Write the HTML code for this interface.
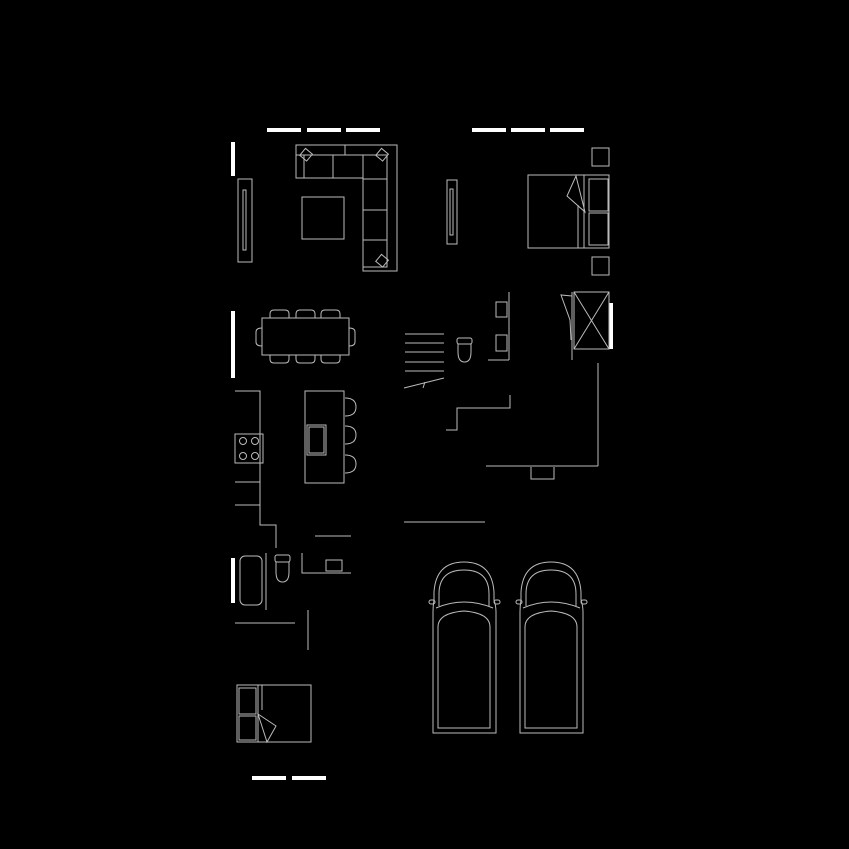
<!DOCTYPE html>
<html><head><style>html,body{margin:0;padding:0;background:#000;}svg{display:block}</style></head>
<body>
<svg width="849" height="849" viewBox="0 0 849 849" xmlns="http://www.w3.org/2000/svg">
<rect width="849" height="849" fill="#000"/>
<g fill="#fff">
<rect x="267" y="128" width="34" height="4"/><rect x="307" y="128" width="34" height="4"/><rect x="346" y="128" width="34" height="4"/>
<rect x="472" y="128" width="34" height="4"/><rect x="511" y="128" width="34" height="4"/><rect x="550" y="128" width="34" height="4"/>
<rect x="231" y="142" width="4" height="34"/><rect x="231" y="311" width="4" height="67"/>
<rect x="609" y="303" width="4" height="46"/><rect x="231" y="558" width="4" height="45"/>
<rect x="252" y="776" width="34" height="4"/><rect x="292" y="776" width="34" height="4"/>
</g>
<g fill="none" stroke="#bbb" stroke-width="1">
<path d="M296,145 H397 V271 H363 V178 H296 Z"/>
<path d="M296,155 H387 V267 H363"/>
<line x1="304" y1="155" x2="304" y2="178"/><line x1="333" y1="155" x2="333" y2="178"/><line x1="363" y1="155" x2="363" y2="178"/><line x1="345" y1="145" x2="345" y2="155"/>
<line x1="363" y1="179" x2="387" y2="179"/><line x1="363" y1="210" x2="387" y2="210"/><line x1="363" y1="240" x2="387" y2="240"/>
<rect x="302" y="150" width="9" height="9" transform="rotate(40 306 154)"/><rect x="378" y="150" width="9" height="9" transform="rotate(40 382 154)"/><rect x="378" y="256" width="9" height="9" transform="rotate(40 382 260)"/>
<rect x="302" y="197" width="42" height="42"/>
<rect x="238" y="179" width="14" height="83"/><rect x="243" y="190" width="3" height="60"/>
<rect x="447" y="180" width="10" height="64"/><rect x="450" y="189" width="3" height="46"/>
<rect x="528" y="175" width="81" height="73"/>
<rect x="589" y="179" width="19" height="32"/><rect x="589" y="213" width="19" height="32"/>
<line x1="584" y1="175" x2="584" y2="248"/><line x1="578" y1="205" x2="578" y2="248"/>
<path d="M576,176 L567,196 L585,212 Z"/>
<rect x="592" y="148" width="17" height="18"/><rect x="592" y="257" width="17" height="18"/>
<rect x="262" y="318" width="87" height="37"/>
<path d="M270,318 v-4 q0,-4 4,-4 h11 q4,0 4,4 v4 M296,318 v-4 q0,-4 4,-4 h11 q4,0 4,4 v4 M321,318 v-4 q0,-4 4,-4 h11 q4,0 4,4 v4"/>
<path d="M270,355 v4 q0,4 4,4 h11 q4,0 4,-4 v-4 M296,355 v4 q0,4 4,4 h11 q4,0 4,-4 v-4 M321,355 v4 q0,4 4,4 h11 q4,0 4,-4 v-4"/>
<path d="M262,328 q-6,0 -6,4 v10 q0,4 6,4 M349,328 q6,0 6,4 v10 q0,4 -6,4"/>
<line x1="405" y1="334" x2="444" y2="334"/><line x1="405" y1="343" x2="444" y2="343"/><line x1="405" y1="352" x2="444" y2="352"/><line x1="405" y1="362" x2="444" y2="362"/><line x1="405" y1="371" x2="444" y2="371"/>
<path d="M404,388 L444,378 M425,382 L423,388"/>
<rect x="457" y="338" width="15" height="6" rx="2"/><path d="M458,344 h13 v8 q0,10 -6.5,10 q-6.5,0 -6.5,-10 Z"/>
<line x1="509" y1="292" x2="509" y2="360"/><line x1="488" y1="360" x2="509" y2="360"/>
<rect x="496" y="302" width="11" height="15"/><rect x="496" y="335" width="11" height="16"/>
<line x1="572" y1="292" x2="572" y2="360"/>
<rect x="574" y="292" width="35" height="57"/><path d="M574,292 L609,349 M609,292 L574,349"/>
<path d="M572,296 L561,295 L570,320 L571,340"/>
<line x1="598" y1="363" x2="598" y2="466"/><line x1="486" y1="466" x2="598" y2="466"/>
<path d="M531,467 v12 h23 v-12"/>
<path d="M510,395 V408 H457 V430 H446"/>
<path d="M235,391 H260 V525 H276 V548"/>
<rect x="235" y="434" width="28" height="29"/>
<circle cx="243" cy="441" r="3.5"/><circle cx="255" cy="441" r="3.5"/><circle cx="243" cy="456" r="3.5"/><circle cx="255" cy="456" r="3.5"/>
<path d="M235,482 H260 M235,505 H260"/>
<rect x="305" y="391" width="39" height="92"/><rect x="307" y="425" width="19" height="30"/><rect x="309" y="427" width="15" height="26"/>
<path d="M345,398 q11,0 11,9 q0,9 -11,9 M345,426 q11,0 11,9 q0,9 -11,9 M345,455 q11,0 11,9 q0,9 -11,9"/>
<line x1="404" y1="522" x2="485" y2="522"/>
<line x1="315" y1="536" x2="351" y2="536"/><path d="M302,553 V573 H351"/><rect x="326" y="560" width="16" height="11"/>
<rect x="240" y="556" width="22" height="49" rx="5"/>
<line x1="266" y1="553" x2="266" y2="610"/>
<rect x="275" y="555" width="15" height="7" rx="2"/><path d="M276,562 h13 v10 q0,10 -6.5,10 q-6.5,0 -6.5,-10 Z"/>
<line x1="235" y1="623" x2="295" y2="623"/><line x1="308" y1="610" x2="308" y2="650"/>
<rect x="237" y="685" width="74" height="57"/>
<rect x="239" y="688" width="17" height="26"/><rect x="239" y="716" width="17" height="24"/>
<line x1="258" y1="685" x2="258" y2="742"/><line x1="262" y1="685" x2="262" y2="710"/>
<path d="M258,714 L276,726 L267,742 Z"/>
<g id="car" transform="translate(432,562)">
<path d="M1,171 V50 Q1,44 2,38 V30 Q4,0 32,0 Q60,0 62,30 V38 Q64,44 64,50 V171 Z"/>
<path d="M7,44 V32 Q7,8 32,8 Q57,8 57,32 V44"/>
<path d="M4,46 Q32,34 61,46"/>
<path d="M6,166 V65 Q6,51 32,49 Q58,51 58,65 V166 Z"/>
<rect x="-3" y="38" width="6" height="4" rx="2"/><rect x="62" y="38" width="6" height="4" rx="2"/>
</g>
<use href="#car" x="87" y="0"/>
</g>
</svg>
</body></html>
